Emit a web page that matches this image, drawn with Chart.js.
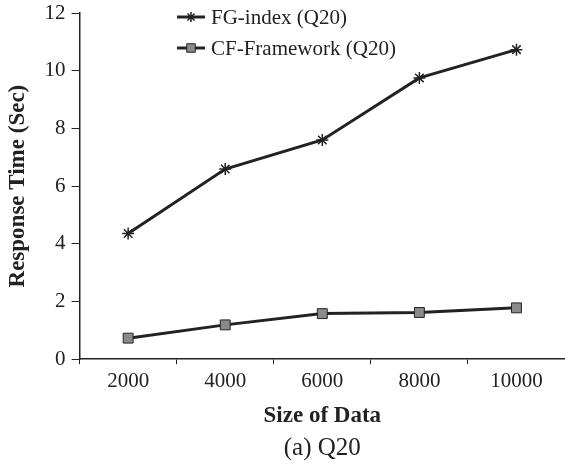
<!DOCTYPE html>
<html>
<head>
<meta charset="utf-8">
<script src="https://cdn.jsdelivr.net/npm/chart.js@4"></script>
<style>
  html, body { margin: 0; padding: 0; background: #fff; }
  #wrap { width: 565px; height: 466px; }
</style>
</head>
<body>
<div id="wrap"><canvas id="chartQ20"></canvas></div>
<script>
const categories = ['2000', '4000', '6000', '8000', '10000'];
const fgIndex    = [4.36, 6.59, 7.6, 9.75, 10.73];
const cfFrame    = [0.73, 1.19, 1.58, 1.62, 1.78];
const yTicks     = [0, 2, 4, 6, 8, 10, 12];

const serif = 'Liberation Serif';
const ink = '#222';

// ── Leyenda con línea + marcador, como en la figura ──
const lineLegend = {
    id: 'lineLegend',
    afterDraw(chart) {
        const ctx = chart.ctx;
        const x0 = 177, rowH = 31, y0 = 17;
        chart.data.datasets.forEach(function(ds, i) {
            const y = y0 + i * rowH;
            ctx.save();
            ctx.strokeStyle = ds.borderColor;
            ctx.lineWidth = 3;
            ctx.beginPath();
            ctx.moveTo(x0, y);
            ctx.lineTo(x0 + 28, y);
            ctx.stroke();
            ctx.lineWidth = ds.pointBorderWidth;
            ctx.fillStyle = ds.pointBackgroundColor;
            ctx.strokeStyle = ds.pointBorderColor;
            Chart.helpers.drawPoint(ctx, {
                pointStyle: ds.pointStyle,
                radius: ds.pointRadius - 1,
                borderWidth: ds.pointBorderWidth
            }, x0 + 14, y);
            ctx.fillStyle = ink;
            ctx.font = '21px "' + serif + '"';
            ctx.textBaseline = 'middle';
            ctx.fillText(ds.label, x0 + 34, y + 1);
            ctx.restore();
        });
    }
};

new Chart(document.getElementById('chartQ20').getContext('2d'), {
    type: 'line',
    data: {
        labels: categories,
        datasets: [{
            label: 'FG-index (Q20)',
            data: fgIndex,
            borderColor: ink,
            borderWidth: 3,
            pointStyle: 'star',
            pointRadius: 6,
            pointBorderWidth: 1.5,
            pointBorderColor: ink,
            pointBackgroundColor: ink,
            tension: 0
        }, {
            label: 'CF-Framework (Q20)',
            data: cfFrame,
            borderColor: ink,
            borderWidth: 3,
            pointStyle: 'rect',
            pointRadius: 7,
            pointBorderWidth: 1,
            pointBorderColor: ink,
            pointBackgroundColor: '#8a8a8a',
            tension: 0
        }]
    },
    options: {
        responsive: true,
        maintainAspectRatio: false,
        animation: false,
        layout: { autoPadding: false, padding: { top: 13, right: 0, left: 4, bottom: 3 } },
        plugins: {
            legend: { display: false },
            tooltip: { enabled: false },
            title: {
                display: true,
                position: 'bottom',
                fullSize: false,
                text: '(a) Q20',
                color: ink,
                font: { family: serif, size: 25, weight: 'normal' },
                padding: { top: 3, bottom: 0 }
            }
        },
        scales: {
            x: {
                offset: true,
                afterFit: function(s) { s.paddingLeft = 0; s.paddingRight = 0; },
                border: { color: ink, width: 1.5 },
                grid: { offset: true, drawOnChartArea: false, color: ink, tickLength: 5, lineWidth: 1 },
                ticks: { color: ink, font: { family: serif, size: 21 }, padding: 5, maxRotation: 0 },
                title: {
                    display: true, text: 'Size of Data', color: ink,
                    font: { family: serif, size: 23, weight: 'bold' },
                    padding: { top: 3, bottom: 0 }
                }
            },
            y: {
                min: 0, max: 12,
                afterBuildTicks: function(s) { s.ticks = yTicks.map(function(v) { return { value: v }; }); },
                afterFit: function(s) { s.paddingTop = 0; s.paddingBottom = 0; },
                border: { color: ink, width: 1.5 },
                grid: { drawOnChartArea: false, color: ink, tickLength: 8, lineWidth: 1 },
                ticks: { color: ink, font: { family: serif, size: 21 }, padding: 6 },
                title: {
                    display: true, text: 'Response Time (Sec)', color: ink,
                    font: { family: serif, size: 23, weight: 'bold' },
                    padding: { top: 0, bottom: 7 }
                }
            }
        }
    },
    plugins: [lineLegend]
});
</script>
</body>
</html>
